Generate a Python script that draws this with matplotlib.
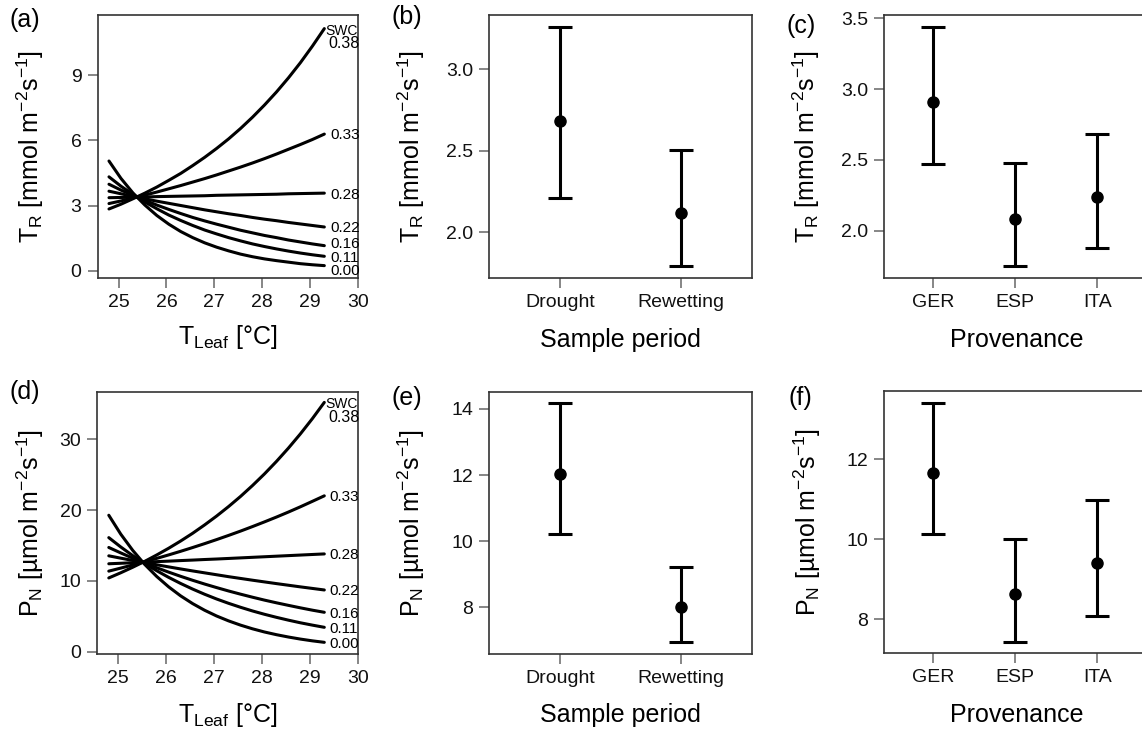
import numpy as np
import matplotlib
matplotlib.use("Agg")
import matplotlib.pyplot as plt

plt.rcParams['font.family'] = ['Liberation Sans', 'DejaVu Sans']
plt.rcParams['mathtext.fontset'] = 'custom'
plt.rcParams['mathtext.rm'] = 'Liberation Sans'
plt.rcParams['mathtext.it'] = 'Liberation Sans:italic'
plt.rcParams['mathtext.bf'] = 'Liberation Sans:bold'

# ---- data ----
t_leaf = [24.8, 25.05, 25.3, 25.55, 25.8, 26.05, 26.3, 26.55, 26.8, 27.05,
          27.3, 27.55, 27.8, 28.05, 28.3, 28.55, 28.8, 29.05, 29.3]
swc_labels = ['0.38', '0.33', '0.28', '0.22', '0.16', '0.11', '0.00']

# transpiration T_R per SWC level (rows follow swc_labels)
tr_curves = [
    [2.84, 3.06, 3.31, 3.57, 3.85, 4.16, 4.48, 4.84, 5.22, 5.63,
     6.07, 6.55, 7.07, 7.63, 8.23, 8.88, 9.58, 10.34, 11.15],
    [3.09, 3.21, 3.35, 3.48, 3.62, 3.77, 3.92, 4.08, 4.24, 4.41,
     4.59, 4.77, 4.96, 5.16, 5.37, 5.59, 5.81, 6.04, 6.29],
    [3.36, 3.37, 3.38, 3.39, 3.41, 3.42, 3.43, 3.44, 3.45, 3.47,
     3.48, 3.49, 3.50, 3.51, 3.52, 3.54, 3.55, 3.56, 3.57],
    [3.66, 3.54, 3.42, 3.31, 3.20, 3.10, 3.00, 2.90, 2.80, 2.71,
     2.62, 2.54, 2.45, 2.37, 2.30, 2.22, 2.15, 2.08, 2.01],
    [3.98, 3.71, 3.47, 3.24, 3.02, 2.82, 2.63, 2.45, 2.29, 2.14,
     2.00, 1.86, 1.74, 1.62, 1.52, 1.41, 1.32, 1.23, 1.15],
    [4.32, 3.89, 3.51, 3.16, 2.85, 2.56, 2.31, 2.08, 1.87, 1.69,
     1.52, 1.37, 1.23, 1.11, 1.00, 0.90, 0.81, 0.73, 0.66],
    [5.05, 4.25, 3.58, 3.02, 2.54, 2.14, 1.80, 1.52, 1.28, 1.08,
     0.91, 0.76, 0.64, 0.54, 0.46, 0.39, 0.32, 0.27, 0.23],
]

# net photosynthesis P_N per SWC level
pn_curves = [
    [10.41, 11.14, 11.92, 12.75, 13.65, 14.60, 15.62, 16.71, 17.89, 19.14,
     20.48, 21.91, 23.45, 25.09, 26.85, 28.73, 30.74, 32.89, 35.19],
    [11.37, 11.80, 12.24, 12.70, 13.17, 13.66, 14.17, 14.70, 15.25, 15.82,
     16.41, 17.02, 17.66, 18.32, 19.00, 19.71, 20.45, 21.22, 22.00],
    [12.41, 12.48, 12.56, 12.63, 12.71, 12.78, 12.86, 12.93, 13.01, 13.08,
     13.16, 13.24, 13.32, 13.40, 13.48, 13.56, 13.64, 13.72, 13.80],
    [13.53, 13.20, 12.88, 12.57, 12.27, 11.97, 11.68, 11.40, 11.13, 10.86,
     10.59, 10.34, 10.09, 9.85, 9.61, 9.38, 9.15, 8.93, 8.71],
    [14.71, 13.94, 13.20, 12.51, 11.85, 11.23, 10.64, 10.08, 9.55, 9.05,
     8.57, 8.12, 7.69, 7.28, 6.90, 6.54, 6.19, 5.86, 5.56],
    [16.10, 14.78, 13.56, 12.45, 11.43, 10.49, 9.63, 8.84, 8.11, 7.44,
     6.83, 6.27, 5.75, 5.28, 4.85, 4.45, 4.08, 3.75, 3.44],
    [19.26, 16.59, 14.30, 12.32, 10.62, 9.15, 7.88, 6.79, 5.85, 5.04,
     4.35, 3.75, 3.23, 2.78, 2.40, 2.07, 1.78, 1.53, 1.32],
]

periods = ['Drought', 'Rewetting']
tr_period_mean = [2.683, 2.120]
tr_period_low = [2.21, 1.793]
tr_period_high = [3.261, 2.505]
pn_period_mean = [12.03, 8.00]
pn_period_low = [10.21, 6.95]
pn_period_high = [14.19, 9.23]

provenances = ['GER', 'ESP', 'ITA']
tr_prov_mean = [2.911, 2.080, 2.240]
tr_prov_low = [2.469, 1.751, 1.876]
tr_prov_high = [3.441, 2.476, 2.681]
pn_prov_mean = [11.65, 8.625, 9.415]
pn_prov_low = [10.13, 7.425, 8.08]
pn_prov_high = [13.42, 10.01, 10.98]

tr_label = r'T$_{\mathrm{R}}$ [mmol m$^{-2}$s$^{-1}$]'
pn_label = r'P$_{\mathrm{N}}$ [µmol m$^{-2}$s$^{-1}$]'
tleaf_label = r'T$_{\mathrm{Leaf}}$ [°C]'

W, H = 1142, 730
fig = plt.figure(figsize=(W / 100, H / 100), dpi=100)


def px_axes(left, top, right, bottom):
    return fig.add_axes([left / W, 1 - bottom / H, (right - left) / W, (bottom - top) / H])


def style(ax, ylab, xlab, ylab_x, xlab_y):
    for s in ax.spines.values():
        s.set_color('#333333')
        s.set_linewidth(1.2)
    ax.tick_params(direction='out', length=7, width=1.1, color='#666666',
                   labelsize=14, pad=4.5, labelcolor='#111111')
    ax.set_ylabel(ylab, fontsize=18, va='center')
    ax.yaxis.set_label_coords(ylab_x, 0.5)
    ax.set_xlabel(xlab, fontsize=18, va='center')
    ax.xaxis.set_label_coords(0.5, xlab_y)


# small vertical nudges (points) so the crowded labels stay legible
label_nudge = {'0.16': 2.5, '0.11': -0.5, '0.00': -3.0}


def curve_panel(ax, curves, yticks, ylim, ylab, ylab_x, xlab_y, nudge):
    for lab, ys in zip(swc_labels, curves):
        ax.plot(t_leaf, ys, color='black', lw=2.2, solid_capstyle='round',
                solid_joinstyle='round')
        if lab == '0.38':
            ax.annotate('SWC', (t_leaf[-1], ys[-1]), xytext=(0.5, -1.5),
                        textcoords='offset points', fontsize=10, va='center', ha='left')
            ax.annotate(lab, (t_leaf[-1], ys[-1]), xytext=(3, -11),
                        textcoords='offset points', fontsize=11.5, va='center', ha='left')
        else:
            dy = nudge.get(lab, 0) - 1
            ax.annotate(lab, (t_leaf[-1], ys[-1]), xytext=(4, dy),
                        textcoords='offset points', fontsize=11, va='center', ha='left')
    ax.set_xlim(24.56, 30.01)
    ax.set_ylim(*ylim)
    ax.set_xticks([25, 26, 27, 28, 29, 30])
    ax.set_yticks(yticks)
    style(ax, ylab, tleaf_label, ylab_x, xlab_y)


def err_panel(ax, cats, mean, low, high, xlim, ylim, yticks, yfmt, ylab, xlab, ylab_x, xlab_y):
    x = np.arange(1, len(cats) + 1)
    mean = np.array(mean)
    err = [mean - np.array(low), np.array(high) - mean]
    ax.errorbar(x, mean, yerr=err, fmt='o', color='black', ms=8, lw=2.2,
                capsize=8.3, capthick=2.2)
    ax.set_xlim(*xlim)
    ax.set_ylim(*ylim)
    ax.set_xticks(x)
    ax.set_xticklabels(cats)
    ax.set_yticks(yticks)
    ax.set_yticklabels([yfmt.format(v) for v in yticks])
    style(ax, ylab, xlab, ylab_x, xlab_y)


ax_a = px_axes(97.5, 14.5, 358.3, 278)
curve_panel(ax_a, tr_curves, [0, 3, 6, 9], (-0.34, 11.8), tr_label, -0.259, -0.225,
            label_nudge)

ax_d = px_axes(97.3, 391.7, 358.3, 654.3)
curve_panel(ax_d, pn_curves, [0, 10, 20, 30], (-0.37, 36.7), pn_label, -0.258, -0.232, {})

ax_b = px_axes(489.3, 15, 752.3, 277.7)
err_panel(ax_b, periods, tr_period_mean, tr_period_low, tr_period_high,
          (0.41, 2.59), (1.721, 3.333), [2.0, 2.5, 3.0], '{:.1f}',
          tr_label, 'Sample period', -0.298, -0.237)

ax_e = px_axes(489.3, 391.7, 752.3, 654)
err_panel(ax_e, periods, pn_period_mean, pn_period_low, pn_period_high,
          (0.41, 2.59), (6.587, 14.52), [8, 10, 12, 14], '{:d}',
          pn_label, 'Sample period', -0.298, -0.233)

ax_c = px_axes(884.3, 15, 1148.5, 277.7)
err_panel(ax_c, provenances, tr_prov_mean, tr_prov_low, tr_prov_high,
          (0.41, 3.62), (1.668, 3.523), [2.0, 2.5, 3.0, 3.5], '{:.1f}',
          tr_label, 'Provenance', -0.294, -0.237)

ax_f = px_axes(884.3, 391, 1148.5, 653.3)
err_panel(ax_f, provenances, pn_prov_mean, pn_prov_low, pn_prov_high,
          (0.41, 3.62), (7.15, 13.71), [8, 10, 12], '{:d}',
          pn_label, 'Provenance', -0.293, -0.235)

# panel letters
for lab, xp, yp in [('(a)', 25, 20), ('(b)', 407, 17), ('(c)', 801, 26),
                    ('(d)', 25, 392), ('(e)', 407, 398), ('(f)', 800, 398)]:
    fig.text(xp / W, 1 - yp / H, lab, fontsize=18, ha='center', va='center')

fig.savefig('out.png', dpi=100)
